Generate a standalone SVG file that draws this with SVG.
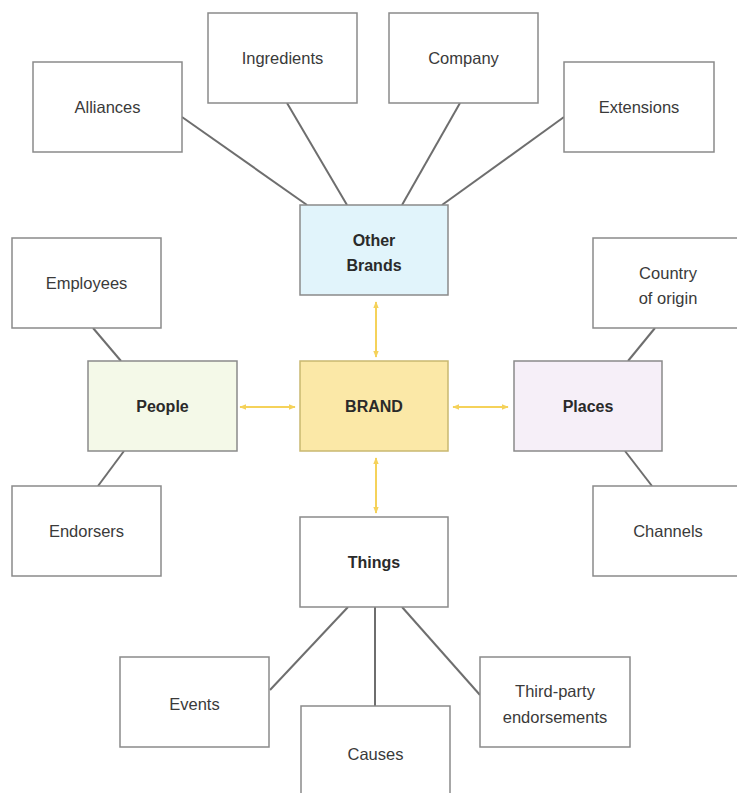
<svg xmlns="http://www.w3.org/2000/svg" width="737" height="793" viewBox="0 0 737 793">
<style>
.box{fill:#ffffff;stroke:#8a8a8a;stroke-width:1.5}
.t{font-family:"Liberation Sans",Arial,sans-serif;font-size:16.5px;fill:#3a3a3a;text-anchor:middle}
.b{font-weight:bold;font-size:16px;fill:#2a2a2a}
.ln{stroke:#6e6e6e;stroke-width:2;fill:none}
.ar{stroke:#f5d25a;stroke-width:2;fill:none;marker-start:url(#ah);marker-end:url(#ah)}
</style>
<defs>
<marker id="ah" viewBox="0 0 10 10" refX="9" refY="5" markerWidth="7" markerHeight="7" markerUnits="userSpaceOnUse" orient="auto-start-reverse">
<path d="M0,1 L10,5 L0,9 z" fill="#f5d25a"/>
</marker>
</defs>
<rect width="737" height="793" fill="#ffffff"/>
<g id="connectors">
<line class="ln" x1="182" y1="117" x2="307" y2="205"/>
<line class="ln" x1="287" y1="103" x2="347" y2="205"/>
<line class="ln" x1="460" y1="103" x2="402" y2="205"/>
<line class="ln" x1="564" y1="117" x2="442" y2="205"/>
<line class="ln" x1="93" y1="328" x2="121" y2="361"/>
<line class="ln" x1="124" y1="451" x2="98" y2="486"/>
<line class="ln" x1="655" y1="328" x2="628" y2="361"/>
<line class="ln" x1="625" y1="451" x2="652" y2="486"/>
<line class="ln" x1="348" y1="607" x2="270" y2="690"/>
<line class="ln" x1="375" y1="607" x2="375" y2="706"/>
<line class="ln" x1="402" y1="607" x2="480" y2="695"/>
<line class="ar" x1="376" y1="302" x2="376" y2="357"/>
<line class="ar" x1="376" y1="458" x2="376" y2="513"/>
<line class="ar" x1="240" y1="407" x2="295" y2="407"/>
<line class="ar" x1="453" y1="407" x2="508" y2="407"/>
</g>
<g id="alliances"><rect class="box" x="33" y="62" width="149" height="90"/><text class="t" x="107.5" y="113">Alliances</text></g>
<g id="ingredients"><rect class="box" x="208" y="13" width="149" height="90"/><text class="t" x="282.5" y="64">Ingredients</text></g>
<g id="company"><rect class="box" x="389" y="13" width="149" height="90"/><text class="t" x="463.5" y="64">Company</text></g>
<g id="extensions"><rect class="box" x="564" y="62" width="150" height="90"/><text class="t" x="639" y="113">Extensions</text></g>
<g id="other-brands"><rect class="box" x="300" y="205" width="148" height="90" style="fill:#e1f4fb"/><text class="t b" x="374" y="246">Other</text><text class="t b" x="374" y="271">Brands</text></g>
<g id="employees"><rect class="box" x="12" y="238" width="149" height="90"/><text class="t" x="86.5" y="289">Employees</text></g>
<g id="people"><rect class="box" x="88" y="361" width="149" height="90" style="fill:#f4f9e8"/><text class="t b" x="162.5" y="412">People</text></g>
<g id="brand"><rect class="box" x="300" y="361" width="148" height="90" style="fill:#fbe8a7;stroke:#c9b870"/><text class="t b" x="374" y="412">BRAND</text></g>
<g id="places"><rect class="box" x="514" y="361" width="148" height="90" style="fill:#f6eff8"/><text class="t b" x="588" y="412">Places</text></g>
<g id="country-of-origin"><rect class="box" x="593" y="238" width="150" height="90"/><text class="t" x="668" y="279">Country</text><text class="t" x="668" y="304">of origin</text></g>
<g id="endorsers"><rect class="box" x="12" y="486" width="149" height="90"/><text class="t" x="86.5" y="537">Endorsers</text></g>
<g id="channels"><rect class="box" x="593" y="486" width="150" height="90"/><text class="t" x="668" y="537">Channels</text></g>
<g id="things"><rect class="box" x="300" y="517" width="148" height="90"/><text class="t b" x="374" y="568">Things</text></g>
<g id="events"><rect class="box" x="120" y="657" width="149" height="90"/><text class="t" x="194.5" y="710">Events</text></g>
<g id="causes"><rect class="box" x="301" y="706" width="149" height="95"/><text class="t" x="375.5" y="760">Causes</text></g>
<g id="third-party"><rect class="box" x="480" y="657" width="150" height="90"/><text class="t" x="555" y="697">Third-party</text><text class="t" x="555" y="723">endorsements</text></g>
</svg>
